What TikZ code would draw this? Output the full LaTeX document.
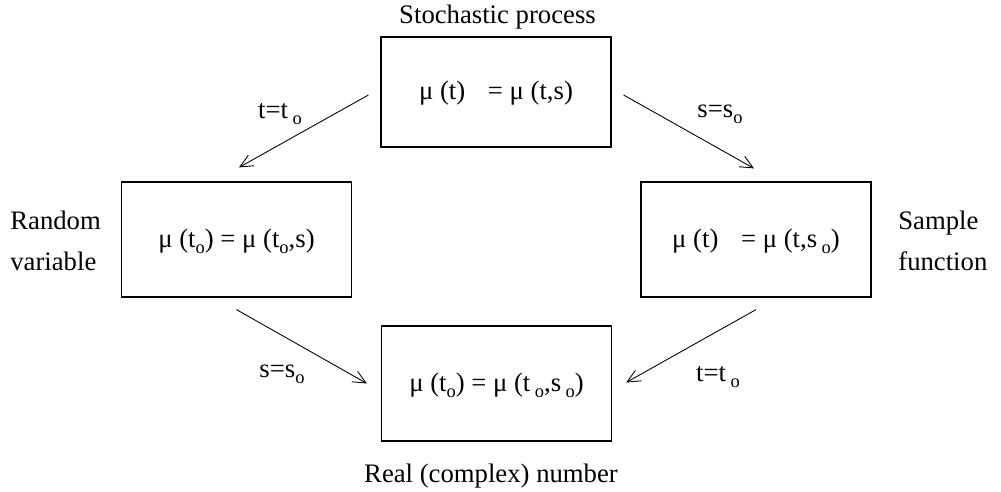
\documentclass[tikz,border=0pt]{standalone}
\usepackage{fontspec}
\setmainfont{Liberation Serif}
\usetikzlibrary{arrows.meta,calc}
\newcommand{\subo}{\raisebox{-3.5pt}{\fontsize{10.5pt}{10.5pt}\selectfont o}}
\tikzset{
  diag/.style={
    x=0.02cm,
    y=-0.02cm,
    font=\fontsize{15.2pt}{22.8pt}\selectfont
  },
  statebox/.style={
    draw,
    rectangle,
    line width=0.7pt,
    minimum width=4.6cm,
    minimum height=2.3cm,
    inner sep=0pt,
    text height=0.9em,
    text depth=0pt
  },
  caption/.style={inner sep=0pt, anchor=base},
  sidetext/.style={inner sep=0pt, align=left, anchor=base west},
  mapto/.style={line width=0.5pt, -{Straight Barb[length=2.6mm,width=2.4mm]}}
}

\begin{document}
\begin{tikzpicture}[diag]
  \useasboundingbox (0,0) rectangle (1001,491);
  \node[statebox, minimum height=2.2cm] (sp) at (496,92) {μ (t)\hspace{0.6em} = μ (t,s)};
  \node[statebox] (rv) at (236.5,239.5) {μ (t\subo) = μ (t\subo,s)};
  \node[statebox] (sf) at (756,239.5) {μ (t)\hspace{0.6em} = μ (t,s\,\subo)};
  \node[statebox] (rn) at (496.5,383.5) {μ (t\subo) = μ (t\,\subo,s\,\subo)};
  \node[caption] (sp-name) at (497.5,23) {Stochastic process};
  \node[caption] (rn-name) at (491,482) {Real (complex) number};
  \node[sidetext] (rv-name) at (10,270) {Random\\variable};
  \node[sidetext] (sf-name) at (898,270) {Sample\\function};
  \coordinate (sp-l) at ($(sp.west)+(-12,3)$);
  \coordinate (sp-r) at ($(sp.east)+(12,3)$);
  \coordinate (rv-in) at ($(rv.north)+(2.5,-14)$);
  \coordinate (sf-in) at ($(sf.north)+(-2,-13)$);
  \coordinate (rv-out) at ($(rv.south)+(0,12)$);
  \coordinate (sf-out) at ($(sf.south)+(0,12)$);
  \coordinate (rn-l) at ($(rn.west)+(-14,0)$);
  \coordinate (rn-r) at ($(rn.east)+(14,-1)$);
  \draw[mapto] (sp-l) -- (rv-in);
  \draw[mapto] (sp-r) -- (sf-in);
  \draw[mapto] (rv-out) -- (rn-l);
  \draw[mapto] (sf-out) -- (rn-r);
  \node[caption] (fix-t1) at (280,118) {t=t\,\subo};
  \node[caption] (fix-s1) at (720,117) {s=s\subo};
  \node[caption] (fix-s2) at (282,377) {s=s\subo};
  \node[caption] (fix-t2) at (718,381) {t=t\,\subo};
\end{tikzpicture}
\end{document}
